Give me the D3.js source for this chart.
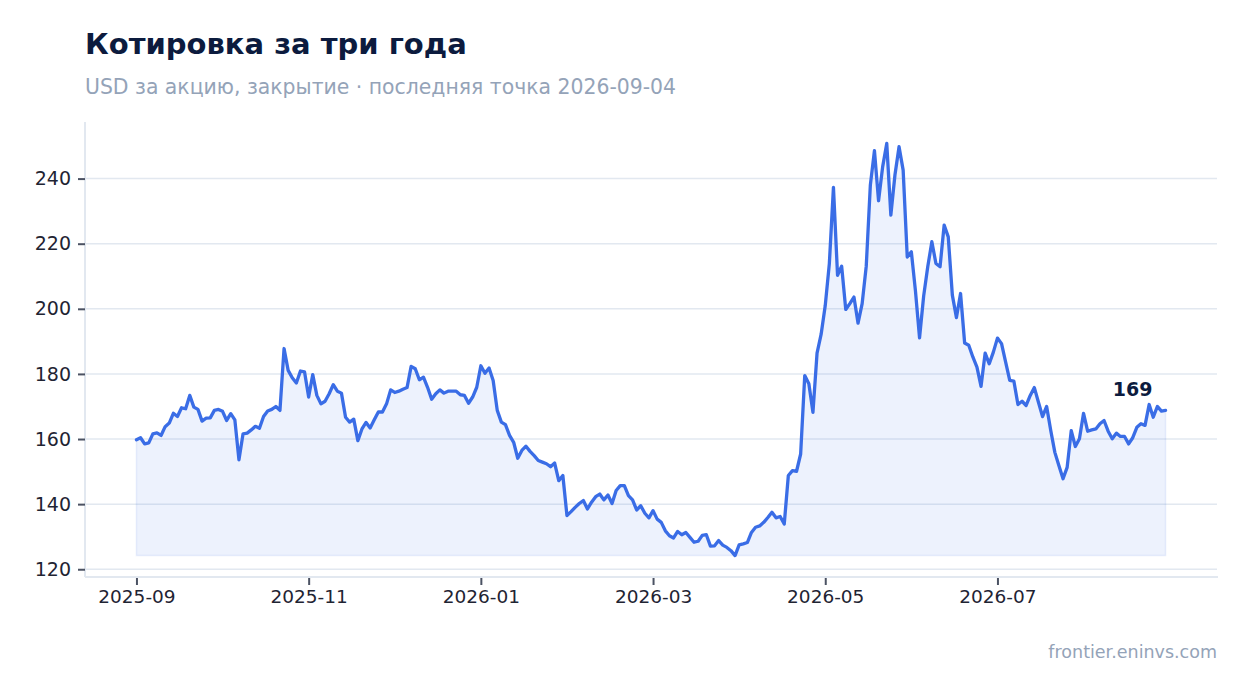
<!DOCTYPE html>
<html>
<head>
<meta charset="utf-8">
<script src="https://cdn.jsdelivr.net/npm/d3@7"></script>
<style>
  html, body { margin: 0; padding: 0; background: #ffffff; }
  svg { display: block; font-family: "DejaVu Sans", sans-serif; }
</style>
</head>
<body>
<svg id="chart" width="1247" height="693"></svg>
<script>
// ---- data ----
const titleText = "Котировка за три года";
const subtitleText = "USD за акцию, закрытие · последняя точка 2026-09-04";
const sourceText = "frontier.eninvs.com";

const closePrices = [
  159.8,160.4,158.5,158.8,161.6,161.9,161.1,163.8,164.9,167.9,166.9,169.6,169.3,173.4,169.8,169.1,165.5,166.4,166.5,168.8,
  169.1,168.5,165.7,167.8,165.9,153.6,161.6,161.8,162.8,163.9,163.3,166.9,168.6,169.1,170.0,168.8,187.8,181.1,178.8,177.2,180.9,
  180.6,172.9,179.8,173.4,170.8,171.6,173.9,176.7,174.7,174.1,166.7,165.2,166.1,159.5,163.1,165.1,163.4,165.9,168.3,168.3,
  170.8,175.1,174.3,174.7,175.3,175.8,182.3,181.6,178.2,179.0,175.9,172.2,173.9,175.1,174.1,174.7,174.7,174.7,173.6,173.4,
  171.0,172.9,175.9,182.5,180.2,181.8,
  178.0,168.8,165.2,164.4,161.1,159.0,154.1,156.5,157.8,156.2,154.9,153.4,152.9,152.4,151.5,152.6,147.2,148.8,136.5,137.7,
  139.0,140.2,141.1,138.5,140.6,142.3,143.1,141.3,142.8,140.2,144.2,145.7,145.7,142.6,141.3,138.2,139.5,137.2,135.8,138.0,
  135.4,134.4,131.8,130.3,
  129.6,131.6,130.6,131.3,129.8,128.3,128.6,130.4,130.6,127.1,127.2,128.8,127.4,126.7,125.7,124.2,127.5,127.8,128.2,131.3,
  132.9,133.3,134.4,135.9,137.5,135.8,136.2,133.9,148.8,150.3,150.1,155.4,179.5,177.0,168.2,186.4,192.2,
  201.0,213.9,237.3,210.3,213.1,199.8,201.6,203.6,195.6,201.6,213.1,238.0,248.6,233.2,243.6,250.8,228.8,241.1,249.8,242.6,
  215.9,217.5,205.5,191.1,203.9,212.9,220.6,213.9,212.9,225.7,222.1,204.2,197.3,204.7,189.5,188.8,185.2,182.1,176.2,186.4,
  183.1,186.7,191.0,
  189.3,183.6,178.0,177.8,170.6,171.6,170.3,173.4,175.8,171.3,166.9,170.0,162.6,155.9,151.8,147.8,151.3,162.6,157.7,160.1,
  167.9,162.4,162.8,163.1,164.7,165.7,162.4,160.1,161.8,160.8,160.8,158.5,160.4,163.6,164.7,164.2,170.6,166.7,170.0,168.6,168.8
];

const xTickIndex = [0, 42, 84, 126, 168, 210];
const xTickLabels = ["2025-09", "2025-11", "2026-01", "2026-03", "2026-05", "2026-07"];
const yTickValues = [120, 140, 160, 180, 200, 220, 240];

// ---- layout ----
const plot = { left: 85, right: 1217, top: 122, bottom: 577 };
const svg = d3.select("#chart");

const n = closePrices.length;
const xPad = (n - 1) * 0.05;
const x = d3.scaleLinear().domain([-xPad, n - 1 + xPad]).range([plot.left, plot.right]);

const vMin = d3.min(closePrices), vMax = d3.max(closePrices);
const vPad = (vMax - vMin) * 0.052;
const y = d3.scaleLinear().domain([vMin - vPad, vMax + vPad]).range([plot.bottom, plot.top]);

// title / subtitle
svg.append("text").attr("x", 85).attr("y", 54)
  .attr("font-size", 29).attr("font-weight", "bold").attr("fill", "#0c1b3e")
  .text(titleText);
svg.append("text").attr("x", 85).attr("y", 94)
  .attr("font-size", 20.4).attr("fill", "#94a3b8")
  .text(subtitleText);

// gridlines
svg.append("g").selectAll("line").data(yTickValues).join("line")
  .attr("x1", plot.left).attr("x2", plot.right)
  .attr("y1", d => y(d)).attr("y2", d => y(d))
  .attr("stroke", "#e2e8f0").attr("stroke-width", 1.5);

// area
const area = d3.area()
  .x((d, i) => x(i))
  .y0(y(vMin))
  .y1(d => y(d));
svg.append("path").datum(closePrices)
  .attr("d", area)
  .attr("fill", "rgba(59,110,230,0.09)")
  .attr("stroke", "rgba(59,110,230,0.10)")
  .attr("stroke-width", 1.5);

// line
const line = d3.line().x((d, i) => x(i)).y(d => y(d));
svg.append("path").datum(closePrices)
  .attr("d", line)
  .attr("fill", "none")
  .attr("stroke", "#3a6de6")
  .attr("stroke-width", 3.3)
  .attr("stroke-linejoin", "round")
  .attr("stroke-linecap", "round");

// axis lines
svg.append("line").attr("x1", plot.left).attr("x2", plot.left)
  .attr("y1", plot.top).attr("y2", plot.bottom)
  .attr("stroke", "#e2e8f0").attr("stroke-width", 2);
svg.append("line").attr("x1", plot.left).attr("x2", plot.right + 1)
  .attr("y1", plot.bottom).attr("y2", plot.bottom)
  .attr("stroke", "#e2e8f0").attr("stroke-width", 2);

// y axis
const yAxis = d3.axisLeft(y).tickValues(yTickValues).tickSize(7).tickPadding(7);
const gy = svg.append("g").attr("transform", `translate(${plot.left},0)`).call(yAxis);
gy.select(".domain").remove();
gy.selectAll(".tick line").attr("stroke", "#4b5263").attr("stroke-width", 2);
gy.selectAll(".tick text").attr("font-size", 19).attr("fill", "#1f2433")
  .attr("font-family", "DejaVu Sans, sans-serif");

// x axis
const xAxis = d3.axisBottom(x).tickValues(xTickIndex)
  .tickFormat((d, i) => xTickLabels[i]).tickSize(7).tickPadding(5);
const gx = svg.append("g").attr("transform", `translate(0,${plot.bottom + 1})`).call(xAxis);
gx.select(".domain").remove();
gx.selectAll(".tick line").attr("stroke", "#4b5263").attr("stroke-width", 2);
gx.selectAll(".tick text").attr("font-size", 18.5).attr("fill", "#1f2433")
  .attr("font-family", "DejaVu Sans, sans-serif");

// last value label
const lastI = n - 1, lastV = closePrices[lastI];
svg.append("text")
  .attr("x", x(lastI) - 13).attr("y", y(lastV) - 14)
  .attr("text-anchor", "end")
  .attr("font-size", 19).attr("font-weight", "bold").attr("fill", "#0c1b3e")
  .text(d3.format(".0f")(lastV));

// source
svg.append("text").attr("x", 1217).attr("y", 658)
  .attr("text-anchor", "end").attr("font-size", 17.5).attr("fill", "#94a3b8")
  .text(sourceText);
</script>
</body>
</html>
